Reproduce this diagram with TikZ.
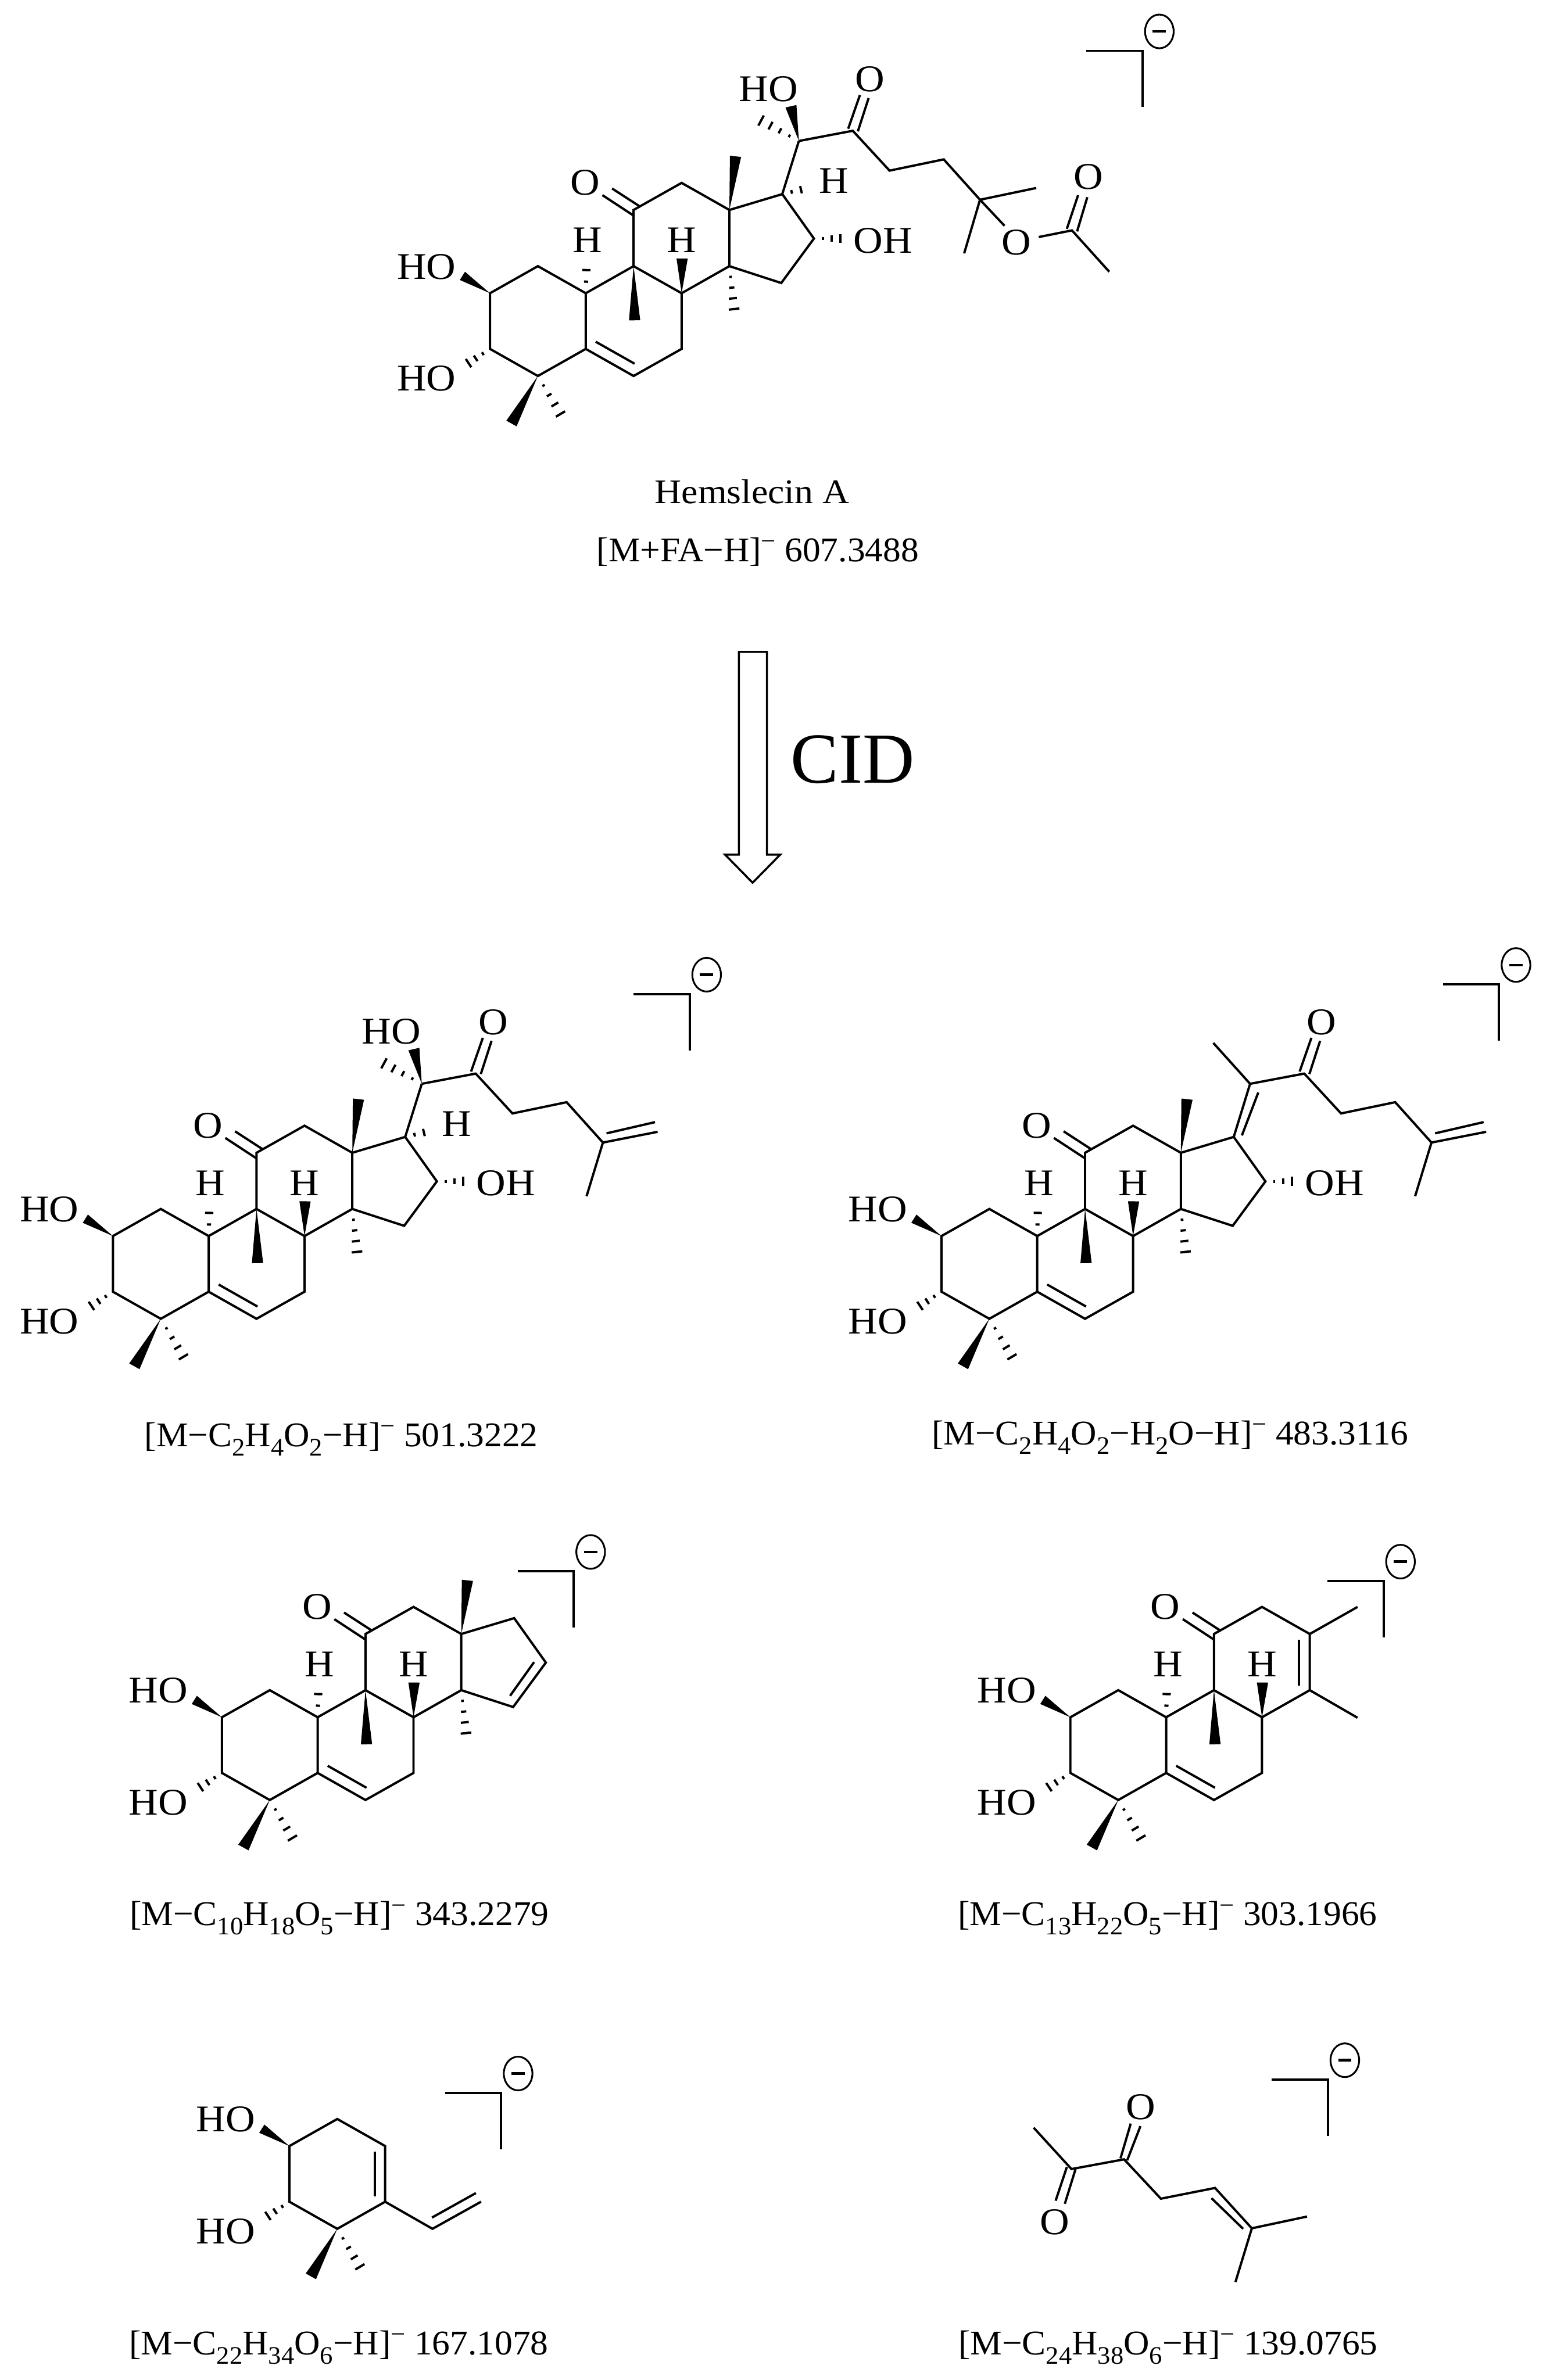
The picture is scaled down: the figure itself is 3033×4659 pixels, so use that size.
\documentclass[tikz,border=0pt]{standalone}
\usepackage{fontspec}
\usetikzlibrary{calc}
\newfontfamily\molfont[FakeStretch=1.08]{Liberation Serif}
\newfontfamily\capfont[FakeStretch=1.07]{Liberation Serif}
\newfontfamily\ionfont[FakeStretch=1.03]{Liberation Serif}
\newcommand\sbs[1]{\raisebox{-.6ex}{\fontsize{14}{14}\selectfont #1}}
\newcommand\spm{\raisebox{.75ex}{\fontsize{14}{14}\selectfont −}}
\tikzset{
  bond/.style={line width=0.045cm,line join=miter,line cap=butt},
  hashline/.style={line width=0.045cm},
  atom/.style={inner sep=0pt,font=\molfont\fontsize{21}{25}\selectfont},
  caption/.style={inner sep=0pt,font=\capfont\fontsize{19.3}{24}\selectfont},
  ion/.style={inner sep=0pt,font=\ionfont\fontsize{19.3}{24}\selectfont},
}
\newcommand\wedgebond[3]{\fill ($(#2)!#3!90:(#1)$) -- ($(#2)!#3!-90:(#1)$) -- (#1) -- cycle;}
\newcommand\hashbond[4]{%
  \foreach \hk in {1,...,#4}{%
    \pgfmathsetmacro\hfrac{\hk/#4}%
    \coordinate (hp) at ($(#1)!\hfrac!(#2)$);
    \draw[hashline] ($(hp)!\hfrac*#3!90:(#2)$) -- ($(hp)!\hfrac*#3!-90:(#2)$);
  }}
% ring A with its substituents
\newcommand\ringA{%
  \coordinate (C2) at (0,0);
  \coordinate (C1) at (93.7,-53);
  \coordinate (C10) at (187.4,0);
  \coordinate (C5) at (187.4,109);
  \coordinate (C4) at (93.7,162);
  \coordinate (C3) at (0,109);
  \draw[bond] (C2)--(C1)--(C10)--(C5)--(C4)--(C3)--cycle;
  \coordinate (C2w) at (-54,-34);
  \coordinate (C3h) at (-56,146);
  \coordinate (C4w) at (42,255);
  \coordinate (C4h) at (149,255);
  \wedgebond{C2}{C2w}{0.095cm}
  \hashbond{C3}{C3h}{0.13cm}{4}
  \wedgebond{C4}{C4w}{0.115cm}
  \hashbond{C4}{C4h}{0.13cm}{5}
  \node[atom] (HOa) at (-124.5,-52) {HO};
  \node[atom] (HOb) at (-124.5,167) {HO};
}
% rings B and C
\newcommand\ringsBC{%
  \coordinate (C9) at (281,-53);
  \coordinate (C11) at (281,-163);
  \coordinate (C12) at (375,-216);
  \coordinate (C13) at (468.5,-163);
  \coordinate (C14) at (468.5,-53);
  \coordinate (C8) at (375,0);
  \coordinate (C7) at (375,109);
  \coordinate (C6) at (281,162);
  \draw[bond] (C10)--(C9)--(C8)--(C7)--(C6)--(C5);
  \draw[bond] (C9)--(C11)--(C12)--(C13)--(C14)--(C8);
  \coordinate (db1) at (207,95); \coordinate (db2) at (283,138);
  \draw[bond] (db1)--(db2);
  \coordinate (oa1) at (239,-205); \coordinate (oa2) at (293,-170);
  \coordinate (ob1) at (220,-192); \coordinate (ob2) at (281,-152);
  \draw[bond] (oa1)--(oa2);
  \draw[bond] (ob1)--(ob2);
  \node[atom] (O11) at (186,-216) {O};
  \node[atom] (H10) at (191,-104) {H};
  \node[atom] (H8) at (375,-104) {H};
  \coordinate (C10h) at (189,-68);
  \coordinate (C8w) at (376,-68);
  \coordinate (C9w) at (283,53);
  \hashbond{C10}{C10h}{0.12cm}{3}
  \wedgebond{C8}{C8w}{0.11cm}
  \wedgebond{C9}{C9w}{0.11cm}
}
\newcommand\cdmethyl{%
  \coordinate (C13w) at (480.5,-268);
  \coordinate (C14h) at (480,52);
  \wedgebond{C13}{C13w}{0.11cm}
  \hashbond{C14}{C14h}{0.13cm}{5}
}
% five-membered ring coordinates
\newcommand\ringDpts{%
  \coordinate (C17) at (572,-194);
  \coordinate (C16) at (634,-107);
  \coordinate (C15) at (570,-20);
  \draw[bond] (C13)--(C17)--(C16)--(C15)--(C14);
}
\newcommand\oh{%
  \coordinate (C16h) at (703,-107);
  \hashbond{C16}{C16h}{0.12cm}{4}
  \node[atom] (OH16) at (769,-103) {OH};
}
% chain from C-20 to C-25
\newcommand\chainC{%
  \coordinate (C22) at (710,-318);
  \coordinate (C23) at (782,-240);
  \coordinate (C24) at (888,-262);
  \coordinate (C25) at (959,-183);
  \draw[bond] (C20)--(C22)--(C23)--(C24)--(C25);
  \coordinate (ca1) at (701,-322); \coordinate (ca2) at (724,-388);
  \coordinate (cb1) at (720,-317); \coordinate (cb2) at (741,-382);
  \draw[bond] (ca1)--(ca2);
  \draw[bond] (cb1)--(cb2);
  \node[atom] (O22) at (744,-419) {O};
}
\newcommand\ctwenty{%
  \coordinate (C20) at (604.5,-298);
  \draw[bond] (C17)--(C20);
  \coordinate (C17h) at (627,-207);
  \coordinate (C20w) at (589,-366);
  \coordinate (C20h) at (512,-348);
  \hashbond{C17}{C17h}{0.11cm}{3}
  \wedgebond{C20}{C20w}{0.11cm}
  \hashbond{C20}{C20h}{0.14cm}{5}
  \node[atom] (H17) at (673,-220) {H};
  \node[atom] (HO20) at (545,-400) {HO};
}
\newcommand\isopropenyl{%
  \coordinate (m1) at (1066,-204);
  \coordinate (m2a) at (966,-201); \coordinate (m2b) at (1061,-223);
  \coordinate (m3) at (927,-78);
  \draw[bond] (C25)--(m1);
  \draw[bond] (m2a)--(m2b);
  \draw[bond] (C25)--(m3);
}
% bracket with charge: corner at #1,#2
\newcommand\chargebracket[3]{%
  \begin{scope}[shift={(#1,#2)},name prefix=#3-]
    \coordinate (bk) at (0,0);
    \coordinate (bl) at (-110,0);
    \coordinate (bd) at (0,110);
    \coordinate (bc) at (33,-38);
    \coordinate (ba) at (20,-38);
    \coordinate (bb) at (46,-38);
    \draw[bond] (bl)--(bk)--(bd);
    \draw[line width=0.035cm] (bc) ellipse [x radius=0.28cm,y radius=0.33cm];
    \draw[line width=0.05cm] (ba)--(bb);
  \end{scope}}
\begin{document}
\begin{tikzpicture}[x=0.01cm,y=-0.01cm]
\fill[white] (0,0) rectangle (3033,4659);
\useasboundingbox (0,0) rectangle (3033,4659);

% Hemslecin A
\begin{scope}[shift={(959,574)},name prefix=s1-]
  \ringA \ringsBC \cdmethyl \ringDpts \oh \ctwenty \chainC
  \coordinate (Me1) at (1069,-206);
  \coordinate (Me2) at (928,-78);
  \coordinate (Oe) at (1007,-132);
  \draw[bond] (C25)--(Me1);
  \draw[bond] (C25)--(Me2);
  \draw[bond] (C25)--(Oe);
  \node[atom] (Oest) at (1030,-99) {O};
  \coordinate (Oe2) at (1074,-110);
  \coordinate (Ac) at (1139,-123);
  \coordinate (AcMe) at (1212,-42);
  \draw[bond] (Oe2)--(Ac)--(AcMe);
  \coordinate (ac1) at (1129,-126); \coordinate (ac2) at (1151,-192);
  \coordinate (ac3) at (1149,-121); \coordinate (ac4) at (1169,-188);
  \draw[bond] (ac1)--(ac2);
  \draw[bond] (ac3)--(ac4);
  \node[atom] (OAc) at (1171,-228) {O};
\end{scope}
\chargebracket{2236}{99.5}{b1}
\node[caption] (name1) at (1472,962) {Hemslecin A};
\node[ion] (ion1) at (1483,1080) {[M+FA−H]\spm{} 607.3488};

% CID arrow
\draw[line width=0.04cm,line join=miter]
  (1446,1276)--(1501,1276)--(1501,1673)--(1527,1673)--(1473,1728)--(1419,1673)--(1446,1673)--cycle;
\node[inner sep=0pt,font=\fontspec{Liberation Serif}\fontsize{40}{44}\selectfont] (cid) at (1669,1487) {CID};

% fragment 501
\begin{scope}[shift={(221,2419.6)},name prefix=s2-]
  \ringA \ringsBC \cdmethyl \ringDpts \oh \ctwenty \chainC \isopropenyl
\end{scope}
\chargebracket{1350}{1946}{b2}
\node[ion] (ion2) at (668,2817) {[M−C\sbs{2}H\sbs{4}O\sbs{2}−H]\spm{} 501.3222};

% fragment 483
\begin{scope}[shift={(1842.6,2419.6)},name prefix=s3-]
  \ringA \ringsBC \cdmethyl \ringDpts \oh
  \coordinate (C20) at (604,-298);
  \draw[bond] (C17)--(C20);
  \coordinate (dz1) at (620,-281); \coordinate (dz2) at (588,-197);
  \draw[bond] (dz1)--(dz2);
  \coordinate (MeZ) at (532,-378);
  \draw[bond] (C20)--(MeZ);
  \chainC \isopropenyl
\end{scope}
\chargebracket{2934}{1927}{b3}
\node[ion] (ion3) at (2290,2814) {[M−C\sbs{2}H\sbs{4}O\sbs{2}−H\sbs{2}O−H]\spm{} 483.3116};

% fragment 343
\begin{scope}[shift={(434.3,3361.6)},name prefix=s4-]
  \ringA \ringsBC \cdmethyl \ringDpts
  \coordinate (dd1) at (611,-108); \coordinate (dd2) at (564,-42);
  \draw[bond] (dd1)--(dd2);
\end{scope}
\chargebracket{1123}{3076}{b4}
\node[ion] (ion4) at (664,3755) {[M−C\sbs{10}H\sbs{18}O\sbs{5}−H]\spm{} 343.2279};

% fragment 303
\begin{scope}[shift={(2094.9,3361.6)},name prefix=s5-]
  \ringA \ringsBC
  \coordinate (dd1) at (447.7,-152); \coordinate (dd2) at (447.7,-62);
  \draw[bond] (dd1)--(dd2);
  \coordinate (Me13) at (562,-216);
  \coordinate (Me14) at (562,1);
  \draw[bond] (C13)--(Me13);
  \draw[bond] (C14)--(Me14);
\end{scope}
\chargebracket{2708}{3095}{b5}
\node[ion] (ion5) at (2285,3755) {[M−C\sbs{13}H\sbs{22}O\sbs{5}−H]\spm{} 303.1966};

% fragment 167
\begin{scope}[shift={(566.4,4201)},name prefix=s6-]
  \ringA
  \coordinate (r1) at (167,11); \coordinate (r2) at (167,99);
  \draw[bond] (r1)--(r2);
  \coordinate (V1) at (280,162);
  \coordinate (V2) at (375,109);
  \coordinate (V3) at (279,140);
  \coordinate (V4) at (365,92);
  \draw[bond] (C5)--(V1)--(V2);
  \draw[bond] (V3)--(V4);
\end{scope}
\chargebracket{981}{4097}{b6}
\node[ion] (ion6) at (663,4595) {[M−C\sbs{22}H\sbs{34}O\sbs{6}−H]\spm{} 167.1078};

% fragment 139
\begin{scope}[name prefix=s7-]
  \coordinate (Me) at (2023,4165);
  \coordinate (Ca) at (2097,4246);
  \coordinate (Cb) at (2200,4227);
  \coordinate (Cc) at (2272,4304);
  \coordinate (Cd) at (2378,4283);
  \coordinate (Ce) at (2450,4362);
  \coordinate (Mf) at (2558,4339);
  \coordinate (Mg) at (2418,4467);
  \draw[bond] (Me)--(Ca)--(Cb)--(Cc)--(Cd)--(Ce)--(Mf);
  \draw[bond] (Ce)--(Mg);
  \coordinate (i1) at (2371,4303); \coordinate (i2) at (2433,4363);
  \draw[bond] (i1)--(i2);
  \node[atom] (O1) at (2233,4125) {O};
  \node[atom] (O2) at (2064,4350) {O};
  \coordinate (p1) at (2193,4225); \coordinate (p2) at (2213,4157);
  \coordinate (p3) at (2206,4229); \coordinate (p4) at (2232,4162);
  \draw[bond] (p1)--(p2);
  \draw[bond] (p3)--(p4);
  \coordinate (q1) at (2088,4242); \coordinate (q2) at (2066,4308);
  \coordinate (q3) at (2105,4246); \coordinate (q4) at (2084,4314);
  \draw[bond] (q1)--(q2);
  \draw[bond] (q3)--(q4);
\end{scope}
\chargebracket{2599}{4071}{b7}
\node[ion] (ion7) at (2286,4595) {[M−C\sbs{24}H\sbs{38}O\sbs{6}−H]\spm{} 139.0765};
\end{tikzpicture}
\end{document}
